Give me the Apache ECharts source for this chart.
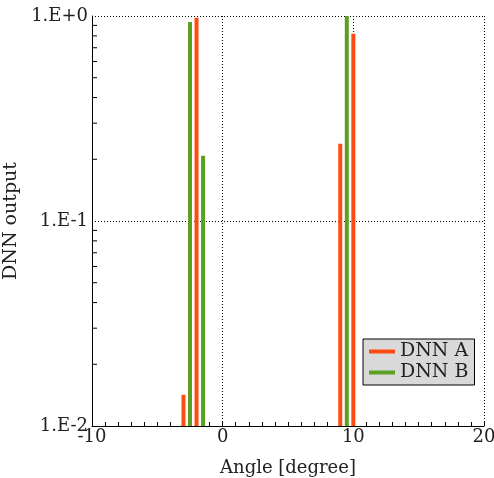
<!DOCTYPE html>
<html><head><meta charset="utf-8">
<script src="https://cdn.jsdelivr.net/npm/echarts@6/dist/echarts.min.js"></script>
<style>html,body{margin:0;padding:0;background:#fff}#c{width:494px;height:478px}</style>
</head><body><div id="c"></div>
<script>
const anglesA = [-3, -2, 9, 10];
const valuesA = [0.0142, 0.98, 0.238, 0.82];
const anglesB = [-2.5, -1.5, 9.5];
const valuesB = [0.935, 0.208, 1.0];
const yMinorTicks = [0.02,0.03,0.04,0.05,0.06,0.07,0.08,0.09,0.2,0.3,0.4,0.5,0.6,0.7,0.8,0.9];
const yTickLabels = {0.01:'1.E-2', 0.1:'1.E-1', 1:'1.E+0'};
const FONT = 'DejaVu Serif';
const RED = '#FF4A12', GREEN = '#5BA021';

function barItem(color){
  return function(params, api){
    const top = api.coord([api.value(0), api.value(1)]);
    const bot = api.coord([api.value(0), 0.01]);
    return {type:'rect', shape:{x:top[0]-2, y:top[1], width:4, height:bot[1]-top[1]}, style:{fill:color}};
  };
}
const chart = echarts.init(document.getElementById('c'));
chart.setOption({
  animation:false,
  grid:{left:92,right:10,top:16,bottom:52,containLabel:false,outerBoundsMode:'none'},
  xAxis:{type:'value',min:-10,max:20,interval:10,
    name:'Angle [degree]',nameLocation:'middle',nameGap:33,
    nameTextStyle:{fontFamily:FONT,fontSize:18,color:'#222'},
    axisLine:{onZero:false,lineStyle:{color:'#000',width:1}},
    axisTick:{inside:true,length:5,lineStyle:{color:'#000'}},
    minorTick:{show:true,splitNumber:10,length:4,lineStyle:{color:'#000'}},
    axisLabel:{fontFamily:FONT,fontSize:18,color:'#222',margin:2},
    splitLine:{show:true,lineStyle:{color:'#000',type:[1,2],width:1}}
  },
  yAxis:{type:'log',min:0.01,max:1,logBase:10,
    name:'DNN output',nameLocation:'middle',nameGap:66,
    nameTextStyle:{fontFamily:FONT,fontSize:19,color:'#222'},
    axisLine:{show:true,onZero:false,lineStyle:{color:'#000',width:1}},
    axisTick:{show:false},
    axisLabel:{fontFamily:FONT,fontSize:18,color:'#222',margin:4,formatter:v=>yTickLabels[Math.round(v*1000)/1000]||''},
    splitLine:{show:true,lineStyle:{color:'#000',type:[1,2],width:1}}
  },
  legend:{show:true,left:363,top:339,orient:'vertical',
    backgroundColor:'#d9d9d9',borderColor:'#000',borderWidth:1,borderRadius:0,
    padding:[3,6,3,6],itemGap:2,itemWidth:26,itemHeight:4,
    textStyle:{fontFamily:FONT,fontSize:19,color:'#222'},
    data:[{name:'DNN A',icon:'rect',itemStyle:{color:RED}},{name:'DNN B',icon:'rect',itemStyle:{color:GREEN}}]},
  series:[
    {name:'DNN A',type:'custom',renderItem:barItem(RED),itemStyle:{color:RED},
      data:anglesA.map((a,i)=>[a,valuesA[i]]),encode:{x:0,y:1},z:3},
    {name:'DNN B',type:'custom',renderItem:barItem(GREEN),itemStyle:{color:GREEN},
      data:anglesB.map((a,i)=>[a,valuesB[i]]),encode:{x:0,y:1},z:3},
    {name:'yticks',type:'custom',silent:true,z:4,
      renderItem:function(params,api){
        const p = api.coord([-10, api.value(0)]);
        return {type:'line',shape:{x1:p[0],y1:p[1],x2:p[0]+5,y2:p[1]},style:{stroke:'#000',lineWidth:1}};
      },
      data:yMinorTicks.map(v=>[v]),encode:{y:0}}
  ]
});
</script></body></html>
